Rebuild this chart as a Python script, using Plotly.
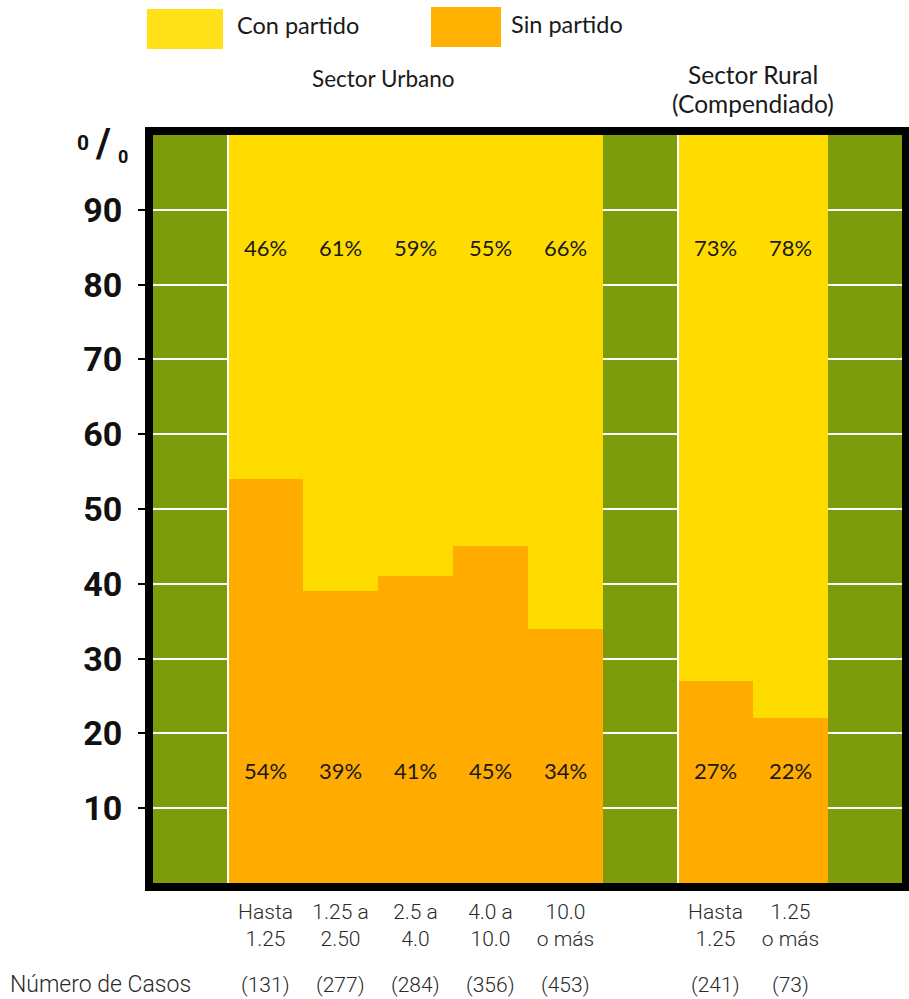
import plotly.graph_objects as go

# --- data -------------------------------------------------------------
urban_labels = ["Hasta<br>1.25", "1.25 a<br>2.50", "2.5 a<br>4.0", "4.0 a<br>10.0", "10.0<br>o más"]
rural_labels = ["Hasta<br>1.25", "1.25<br>o más"]
urban_con = [46, 61, 59, 55, 66]
urban_sin = [54, 39, 41, 45, 34]
rural_con = [73, 78]
rural_sin = [27, 22]
urban_cases = [131, 277, 284, 356, 453]
rural_cases = [241, 73]
y_tick_values = [10, 20, 30, 40, 50, 60, 70, 80, 90]

# --- colours ----------------------------------------------------------
GREEN = "#7c9c0c"
YELLOW = "#ffdc00"
ORANGE = "#ffab00"
LEG_YELLOW = "#ffe11a"
LEG_ORANGE = "#ffb000"

# --- column slots: green spacer | urban | green spacer | rural | green spacer
urban_start = 1
rural_start = urban_start + len(urban_labels) + 1
n_slots = rural_start + len(rural_labels) + 1
x_urban = [urban_start + i + 0.5 for i in range(len(urban_labels))]
x_rural = [rural_start + i + 0.5 for i in range(len(rural_labels))]

xs = x_urban + x_rural
labels = urban_labels + rural_labels
con = urban_con + rural_con
sin = urban_sin + rural_sin
cases = urban_cases + rural_cases

# figure geometry (pixels)
W, H = 909, 999
L, R, T, B = 153, 6, 135, 116
PW, PH = W - L - R, H - T - B


def px(xpix):
    return (xpix - L) / PW


def py(ypix):
    return (H - B - ypix) / PH


fig = go.Figure()
fig.add_trace(go.Bar(x=xs, y=sin, width=1, marker=dict(color=ORANGE, line=dict(width=0)),
                     name="Sin partido", hoverinfo="y"))
fig.add_trace(go.Bar(x=xs, y=con, width=1, marker=dict(color=YELLOW, line=dict(width=0)),
                     name="Con partido", hoverinfo="y"))

label_font = dict(family="Lato, Noto Sans, sans-serif", size=22, color="#1a1a1a")
annotations = []
for x, c, s in zip(xs, con, sin):
    annotations.append(dict(x=x, y=85, xref="x", yref="y", text=f"{c}%", showarrow=False,
                            font=label_font))
    annotations.append(dict(x=x, y=15, xref="x", yref="y", text=f"{s}%", showarrow=False,
                            font=label_font))

# case counts under the categories
cond_font = dict(family="Roboto, sans-serif", size=21, color="#2a2a2a", weight=300)
for x, n in zip(xs, cases):
    annotations.append(dict(x=x, y=py(985), xref="x", yref="paper", text=f"({n})",
                            showarrow=False, font=cond_font, xanchor="center", yanchor="middle"))
annotations.append(dict(x=px(8), y=py(985), xref="paper", yref="paper", text="Número de Casos",
                        showarrow=False, font=dict(cond_font, size=23),
                        xanchor="left", yanchor="middle"))

# section headings
head_font = dict(family="Lato, Noto Sans, sans-serif", size=22.5, color="#1a1a1a")
rural_mid = sum(x_rural) / len(x_rural)
annotations.append(dict(x=px(383), y=py(78), xref="paper", yref="paper",
                        text="Sector Urbano", showarrow=False, font=head_font,
                        xanchor="center", yanchor="middle"))
annotations.append(dict(x=rural_mid, y=py(75), xref="x", yref="paper",
                        text="Sector Rural", showarrow=False, font=dict(head_font, size=24.5),
                        xanchor="center", yanchor="middle"))
annotations.append(dict(x=rural_mid, y=py(104), xref="x", yref="paper",
                        text="(Compendiado)", showarrow=False, font=dict(head_font, size=24.5),
                        xanchor="center", yanchor="middle"))

# legend
annotations.append(dict(x=px(235), y=py(25), xref="paper", yref="paper", text="Con partido",
                        showarrow=False, font=dict(head_font, size=23.5),
                        xanchor="left", yanchor="middle"))
annotations.append(dict(x=px(509), y=py(24), xref="paper", yref="paper", text="Sin partido",
                        showarrow=False, font=dict(head_font, size=23.5),
                        xanchor="left", yanchor="middle"))

# percent sign above the axis
pct_font = dict(family="Roboto, sans-serif", size=21, color="#111", weight="bold")
annotations.append(dict(x=px(83), y=py(143), xref="paper", yref="paper", text="0",
                        showarrow=False, font=pct_font, xanchor="center", yanchor="middle"))
annotations.append(dict(x=px(103), y=py(143), xref="paper", yref="paper", text="/",
                        showarrow=False, font=dict(pct_font, size=40),
                        xanchor="center", yanchor="middle"))
annotations.append(dict(x=px(123), y=py(156), xref="paper", yref="paper", text="0",
                        showarrow=False, font=dict(pct_font, size=18),
                        xanchor="center", yanchor="middle"))

shapes = [
    # white separators on the left edge of each group
    dict(type="line", xref="x", yref="y", x0=urban_start, x1=urban_start, y0=0, y1=100,
         line=dict(color="white", width=2), layer="above"),
    dict(type="line", xref="x", yref="y", x0=rural_start, x1=rural_start, y0=0, y1=100,
         line=dict(color="white", width=2), layer="above"),
    # black frame
    dict(type="rect", xref="paper", yref="paper", x0=px(149), x1=px(906), y0=py(887), y1=py(131),
         line=dict(color="black", width=8), fillcolor="rgba(0,0,0,0)", layer="above"),
    # legend swatches
    dict(type="rect", xref="paper", yref="paper", x0=px(147), x1=px(223), y0=py(49), y1=py(9),
         line=dict(width=0), fillcolor=LEG_YELLOW),
    dict(type="rect", xref="paper", yref="paper", x0=px(431), x1=px(501), y0=py(47), y1=py(7),
         line=dict(width=0), fillcolor=LEG_ORANGE),
]

fig.update_layout(
    width=W, height=H, autosize=False,
    margin=dict(l=L, r=R, t=T, b=B, pad=0),
    paper_bgcolor="white", plot_bgcolor=GREEN,
    barmode="stack", bargap=0, showlegend=False,
    annotations=annotations, shapes=shapes,
    xaxis=dict(range=[0, n_slots], tickvals=xs, ticktext=labels, ticks="",
               showgrid=False, zeroline=False, showline=False, fixedrange=True,
               tickfont=cond_font, ticklabelstandoff=14),
    yaxis=dict(range=[0, 100], tickvals=y_tick_values, ticktext=[str(v) for v in y_tick_values],
               showgrid=True, gridcolor="white", gridwidth=2, zeroline=False, showline=False,
               ticks="outside", ticklen=14, tickwidth=2, tickcolor="black",
               tickfont=dict(family="Roboto, sans-serif", size=34, color="#111", weight="bold"),
               ticklabelstandoff=9, fixedrange=True),
)

fig.write_html("out.html")
